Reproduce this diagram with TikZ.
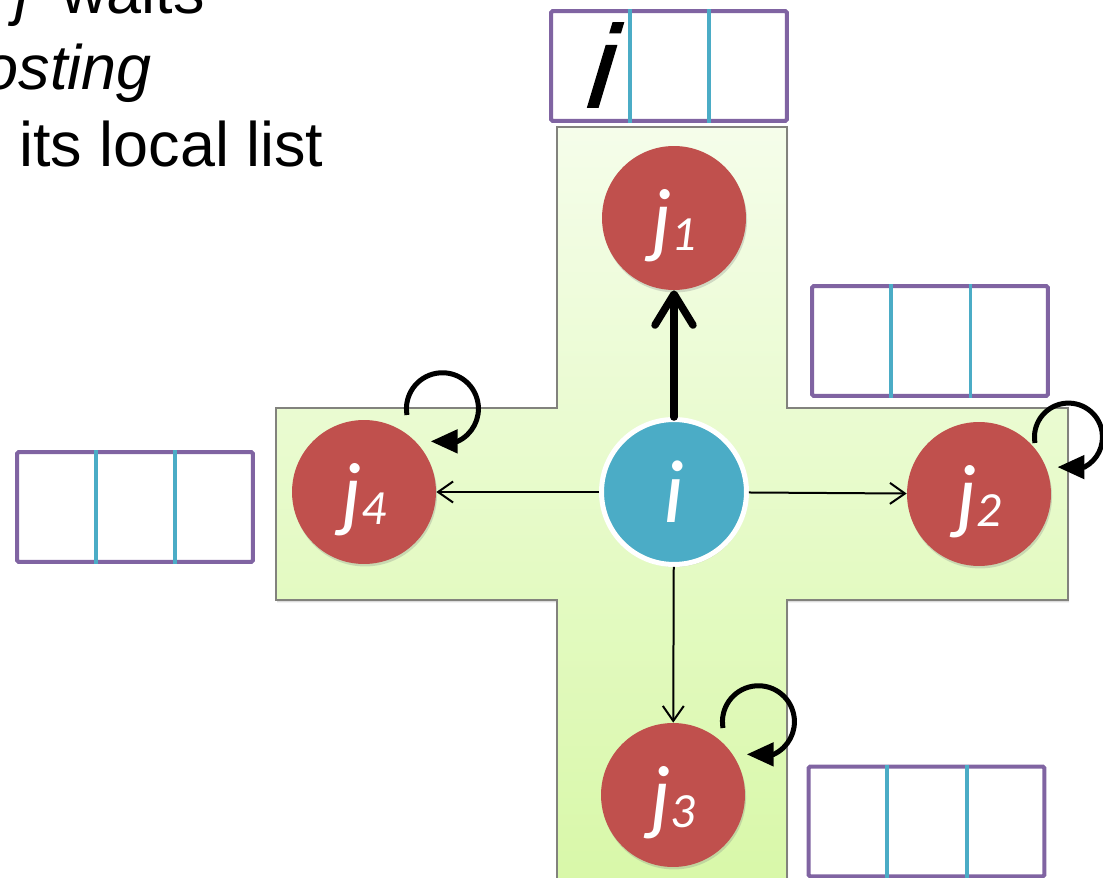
\documentclass[tikz,border=0pt]{standalone}
\usepackage{fontspec}
\setmainfont{Liberation Sans}
\newfontfamily\calib{Carlito}
\newfontfamily\boxifont[FakeSlant=0.3,FakeBold=1.3]{Liberation Sans}
\usetikzlibrary{arrows.meta,shadows,calc}
\definecolor{nodered}{RGB}{192,80,77}
\definecolor{nodeblue}{RGB}{75,172,198}
\definecolor{listpurple}{RGB}{128,100,162}
\definecolor{listteal}{RGB}{75,172,198}
\definecolor{crosstop}{RGB}{245,253,234}
\definecolor{crossbot}{RGB}{216,248,168}
\definecolor{crossedge}{RGB}{130,130,125}
\newcommand{\jsub}[1]{\rule{0pt}{42pt}j\raisebox{-1.5pt}{\fontsize{28pt}{28pt}\selectfont #1}}
\begin{document}
\begin{tikzpicture}[x=0.02cm,y=-0.02cm,
  softshadow/.style={drop shadow={opacity=0.28,shadow xshift=0.6pt,shadow yshift=-1.4pt}},
  peer/.style={circle,fill=nodered,minimum size=2.88cm,inner sep=0pt,text=white,
    font={\calib\itshape\fontsize{48pt}{48pt}\selectfont},softshadow},
  hubnode/.style={circle,fill=nodeblue,draw=white,line width=0.1cm,minimum size=2.9cm,inner sep=0pt,
    text=white,font={\calib\itshape\fontsize{51pt}{51pt}\selectfont},softshadow},
  listbox/.style={draw=listpurple,line width=0.08cm,fill=white,minimum width=4.72cm,
    minimum height=2.2cm,inner sep=0pt,rounded corners=1pt},
  divider/.style={draw=listteal,line width=0.08cm},
  sendarrow/.style={line width=0.04cm,-{Straight Barb[length=0.3cm,width=0.42cm]}},
  mainarrow/.style={line width=0.15cm,line cap=round,-{Straight Barb[length=0.62cm,width=0.76cm,round]}},
  loopar/.style={line width=0.1cm,-{Triangle[length=0.54cm,width=0.46cm]}},
  bodytext/.style={inner sep=0pt,font={\fontsize{35.8pt}{40pt}\selectfont}}
]
\useasboundingbox (0,0) rectangle (1103,878);
\clip (0,0) rectangle (1103,878);

% cross-shaped background
\path[draw=crossedge,line width=0.03cm,top color=crosstop,bottom color=crossbot,softshadow]
  (557,127) -- (787,127) -- (787,408) -- (1068,408) -- (1068,600) -- (787,600)
  -- (787,890) -- (557,890) -- (557,600) -- (276,600) -- (276,408) -- (557,408) -- cycle;

% text
\node[bodytext,anchor=base west] (t1) at (15,14) {\textit{j}\hspace{0.26cm} waits};
\node[bodytext,anchor=base east] (t2) at (152,90) {\textit{osting}};
\node[bodytext,anchor=base west] (t3) at (19,167) {its local list};

% list boxes
\node[listbox] (Ltop) at (669,66) {};
\node[listbox] (Lright) at (930,341) {};
\node[listbox] (Lleft) at (135,507) {};
\node[listbox] (Lbot) at (926.5,821.5) {};
\foreach \b in {Ltop,Lright,Lleft,Lbot}{
  \draw[divider] ([xshift=1.61cm]\b.north west) -- ([xshift=1.61cm]\b.south west);
  \draw[divider] ([xshift=3.21cm]\b.north west) -- ([xshift=3.21cm]\b.south west);
}
\node[inner sep=0pt,anchor=base,font={\boxifont\fontsize{66pt}{66pt}\selectfont}] (boxi) at (593,107) {i};

% nodes
\node[peer] (j1) at (674,218) {\jsub{1}};
\node[peer] (j4) at (364,492) {\jsub{4}};
\node[peer] (j2) at (979,494) {\jsub{2}};
\node[peer] (j3) at (673,795) {\jsub{3}};
\node[hubnode] (i) at (674,492) {i};

% connectors
\draw[mainarrow] (i) -- (j1);
\draw[sendarrow] (i) -- (j4);
\draw[sendarrow] (i) -- (j2);
\draw[sendarrow] (i) -- (j3);

% self loops
\draw[loopar] ([shift={(43,-77)}]j4.center) arc[start angle=190,end angle=-65,radius=0.72cm] -- ++(-27,0);
\draw[loopar] ([shift={(56,-51)}]j2.center) arc[start angle=190,end angle=-62,radius=0.68cm] -- ++(-27,0);
\draw[loopar] ([shift={(50,-67)}]j3.center) arc[start angle=190,end angle=-65,radius=0.72cm] -- ++(-27,0);
\end{tikzpicture}
\end{document}
